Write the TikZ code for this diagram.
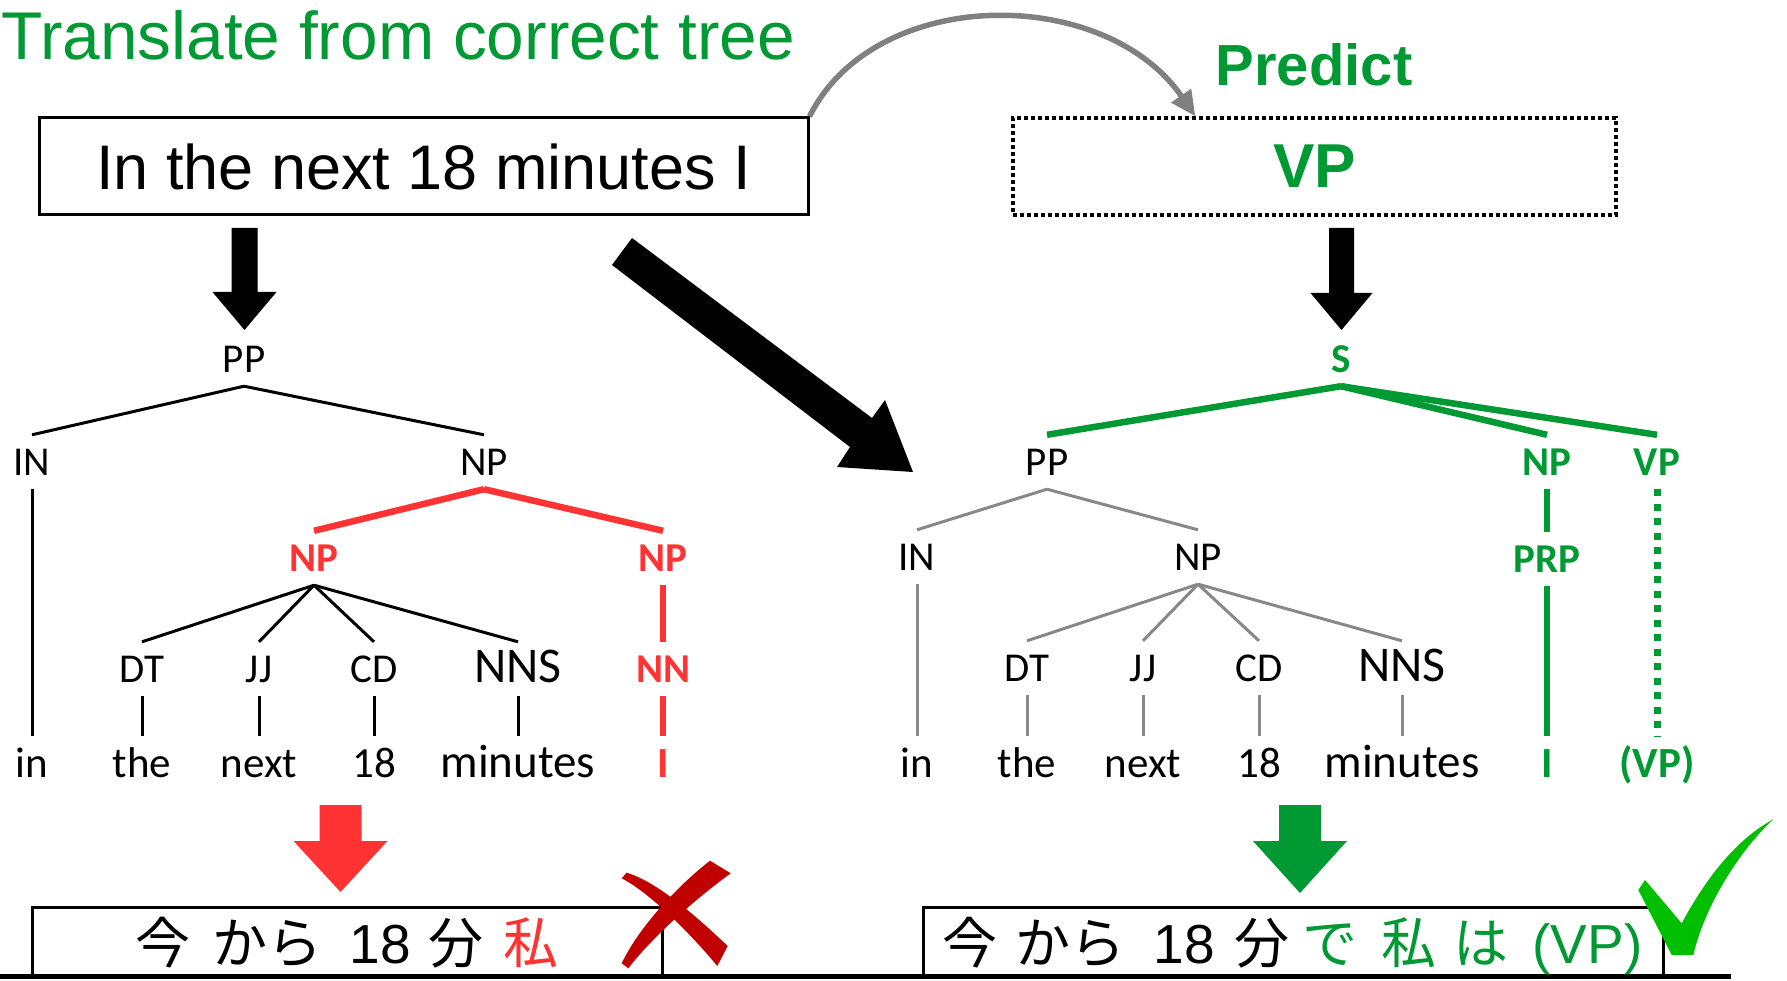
\documentclass[tikz,border=0pt]{standalone}
\usepackage{fontspec}
\setmainfont{Liberation Sans}
\newfontfamily\treefont{Carlito}
\newfontfamily\jpfont{Noto Sans CJK JP}
\usetikzlibrary{arrows.meta}
\definecolor{ggreen}{HTML}{009933}
\definecolor{rred}{HTML}{FF3333}
\definecolor{xred}{HTML}{C00000}
\definecolor{chkgreen}{HTML}{00BE00}
\definecolor{arrowgray}{HTML}{808080}
\definecolor{edgegray}{HTML}{888888}
\newcommand\setfs[1]{\fontsize{#1pt}{#1pt}\selectfont}
% block arrow pointing down: x, top, head base, tip, shaft half width, head half width, colour
\newcommand\fatdown[7]{\fill[#7] (#1-#5,#2) -- (#1+#5,#2) -- (#1+#5,#3) -- (#1+#6,#3) -- (#1,#4) -- (#1-#6,#3) -- (#1-#5,#3) -- cycle;}
\begin{document}
\begin{tikzpicture}[x=1pt,y=-1pt,
  lab/.style={anchor=base, inner xsep=0pt, inner ysep=14pt, text height=26pt, text depth=0pt, font=\treefont\setfs{41}},
  word/.style={lab, text height=27pt, font=\treefont\setfs{43}},
  bignns/.style={font=\treefont\setfs{50}},
  bigword/.style={font=\treefont\setfs{47}},
  redlab/.style={text=rred, font=\treefont\bfseries\setfs{41}},
  greenlab/.style={text=ggreen, font=\treefont\bfseries\setfs{41}},
  bedge/.style={line width=3pt, black},
  gedge/.style={line width=3pt, edgegray},
  redge/.style={line width=6.5pt, rred},
  gredge/.style={line width=6.5pt, ggreen},
  dotedge/.style={line width=7pt, ggreen, dash pattern=on 7pt off 7.5pt},
  outbox/.style={draw, line width=3pt, inner sep=0pt, minimum height=69pt},
  jptext/.style={anchor=base, inner sep=0pt, font=\setfs{55}}
]
\useasboundingbox (0,0) rectangle (1787,981);
\fill[white] (0,0) rectangle (1787,981);

% heading and input sentence
\node[anchor=base west, inner sep=0pt, font=\setfs{67.6}, text=ggreen] (title) at (1,60) {Translate from correct tree};
\node[draw, line width=3pt, inner sep=0pt, minimum width=769pt, minimum height=97pt, font=\setfs{63}] (src) at (423.5,166.5) {In the next 18 minutes I};

% predicted part
\node[anchor=base, inner sep=0pt, font=\bfseries\setfs{58}, text=ggreen] (predict) at (1314,86) {Predict};
\node[draw, line width=3.5pt, dash pattern=on 4pt off 3pt, inner sep=0pt, minimum width=603pt, minimum height=97pt, font=\bfseries\setfs{62}, text=ggreen] (vpbox) at (1314.5,166.5) {VP};
\draw[line width=5.5pt, arrowgray, -{Triangle[length=25pt,width=23pt]}] (src.north east) .. controls (875,-15) and (1105,-15) .. ([xshift=184pt]vpbox.north west);

% block arrows
\fatdown{244.5}{228}{292}{330}{13}{32}{black}
\fatdown{1341.5}{228}{293}{330}{12.5}{31}{black}
\fill[black] (632,238) -- (872,418) -- (885,400) -- (913,472) -- (837,467) -- (850,447) -- (612,265) -- cycle;
\fatdown{340.5}{805}{841}{892}{21}{47}{rred}
\fatdown{1300}{805}{841}{893}{21}{47}{ggreen}

% ---- left tree ----
\node[lab] (PPL) at (244,372) {PP};
\node[lab] (INL) at (32,475) {IN};
\node[lab] (NPL) at (484,475) {NP};
\node[lab, redlab] (NPa) at (314,571) {NP};
\node[lab, redlab] (NPb) at (663,571) {NP};
\node[lab] (DTL) at (142,682) {DT};
\node[lab] (JJL) at (259,682) {JJ};
\node[lab] (CDL) at (374,682) {CD};
\node[lab, bignns] (NNSL) at (518,682) {NNS};
\node[lab, redlab] (NNL) at (663,682) {NN};
\node[word] (w1) at (32,777) {in};
\node[word] (w2) at (142,777) {the};
\node[word] (w3) at (259,777) {next};
\node[word] (w4) at (374,777) {18};
\node[word, bigword] (w5) at (518,777) {minutes};
\node[word, text=rred, font=\treefont\bfseries\setfs{43}] (w6) at (663,777) {I};

\draw[bedge] (PPL.south) -- (INL.north);
\draw[bedge] (PPL.south) -- (NPL.north);
\draw[redge] (NPL.south) -- (NPa.north);
\draw[redge] (NPL.south) -- (NPb.north);
\foreach \c in {DTL,JJL,CDL,NNSL} \draw[bedge] (NPa.south) -- (\c.north);
\draw[redge] (NPb.south) -- (NNL.north);
\draw[redge] (NNL.south) -- (w6.north);
\draw[bedge] (INL.south) -- (w1.north);
\draw[bedge] (DTL.south) -- (w2.north);
\draw[bedge] (JJL.south) -- (w3.north);
\draw[bedge] (CDL.south) -- (w4.north);
\draw[bedge] (NNSL.south) -- (w5.north);

% ---- right tree ----
\node[lab, greenlab] (S) at (1341,372) {S};
\node[lab] (PPR) at (1047,475) {PP};
\node[lab, greenlab] (NPg) at (1547,475) {NP};
\node[lab, greenlab] (VPg) at (1657,475) {VP};
\node[lab] (INR) at (917,570) {IN};
\node[lab] (NPR) at (1198,570) {NP};
\node[lab, greenlab] (PRP) at (1547,572) {PRP};
\node[lab] (DTR) at (1027,681) {DT};
\node[lab] (JJR) at (1143,681) {JJ};
\node[lab] (CDR) at (1259,681) {CD};
\node[lab, bignns] (NNSR) at (1402,681) {NNS};
\node[word] (r1) at (917,777) {in};
\node[word] (r2) at (1027,777) {the};
\node[word] (r3) at (1143,777) {next};
\node[word] (r4) at (1259,777) {18};
\node[word, bigword] (r5) at (1402,777) {minutes};
\node[word, text=ggreen, font=\treefont\bfseries\setfs{43}] (Ig) at (1547,777) {I};
\node[word, text=ggreen, font=\treefont\bfseries\setfs{43}] (vpw) at (1657,777) {(VP)};

\draw[gredge] (S.south) -- (PPR.north);
\draw[gredge] (S.south) -- (NPg.north);
\draw[gredge] (S.south) -- (VPg.north);
\draw[gedge] (PPR.south) -- (INR.north);
\draw[gedge] (PPR.south) -- (NPR.north);
\foreach \c in {DTR,JJR,CDR,NNSR} \draw[gedge] (NPR.south) -- (\c.north);
\draw[gedge] (INR.south) -- (r1.north);
\draw[gedge] (DTR.south) -- (r2.north);
\draw[gedge] (JJR.south) -- (r3.north);
\draw[gedge] (CDR.south) -- (r4.north);
\draw[gedge] (NNSR.south) -- (r5.north);
\draw[gredge] (NPg.south) -- (PRP.north);
\draw[gredge] (PRP.south) -- (Ig.north);
\draw[dotedge] (VPg.south) -- (vpw.north);

% ---- output translations ----
\node[outbox, minimum width=630pt] (out1) at (347,941.5) {};
\node[outbox, minimum width=740pt] (out2) at (1293,941.5) {};
\draw[line width=5pt] (0,976) -- (1731,976);
\node[jptext] (jp1) at (347,963) {{\jpfont 今}\hspace{22pt}{\jpfont から}\hspace{27pt}18\hspace{17pt}{\jpfont 分}\hspace{20pt}{\jpfont\color{rred}私}};
\node[jptext] (jp2) at (1292.5,963) {{\jpfont 今}\hspace{18pt}{\jpfont から}\hspace{28pt}18\hspace{20pt}{\jpfont 分}\hspace{13pt}{\color{ggreen}{\jpfont で}\hspace{24pt}{\jpfont 私}\hspace{17pt}{\jpfont は}\hspace{24pt}(VP)}};

% wrong mark
\fill[xred] (626.7,872.7) .. controls (660,883) and (700,920) .. (727.7,946) -- (717.3,966) .. controls (690,933) and (650,893) .. (621.7,878.3) -- cycle;
\fill[xred] (710,860.7) .. controls (680,884) and (640,925) .. (621.7,963.3) -- (628.3,968.3) .. controls (650,940) and (690,903) .. (730.7,873.3) -- cycle;
% correct mark
\fill[chkgreen] (1638.3,890) -- (1645,880) -- (1681.7,923.3) .. controls (1705,880) and (1735,840) .. (1773.3,819.3) .. controls (1740,850) and (1705,905) .. (1693.3,955) -- (1671.7,955) -- cycle;
\end{tikzpicture}
\end{document}
